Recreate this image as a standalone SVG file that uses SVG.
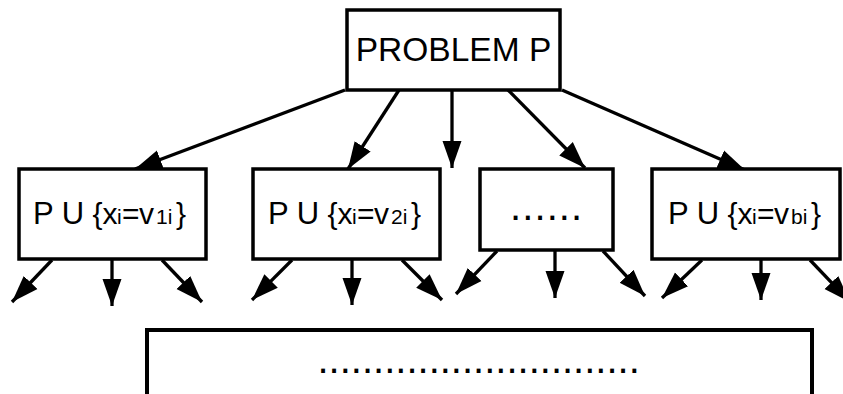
<svg xmlns="http://www.w3.org/2000/svg" width="843" height="394" viewBox="0 0 843 394">
  <defs>
    <marker id="ah" markerUnits="userSpaceOnUse" markerWidth="28" markerHeight="22" refX="27" refY="11" orient="auto">
      <path d="M0,1.5 L27,11 L0,20.5 Z" fill="#000"/>
    </marker>
    <style>
      .box { fill: #fff; stroke: #000; stroke-width: 3.5; }
      .t { font-family: "Liberation Sans", Arial, sans-serif; fill: #000; }
      .big { font-size: 31px; }
      .mid { font-size: 30px; }
      .sub { font-size: 21px; }
      .dots { font-family: "Liberation Sans", Arial, sans-serif; font-size: 40px; fill: #000; }
      .edge { stroke: #000; stroke-width: 3.3; fill: none; marker-end: url(#ah); }
    </style>
  </defs>
  <rect width="843" height="394" fill="#fff"/>

  <g id="connectors">
    <line class="edge" x1="345" y1="90" x2="135" y2="169"/>
    <line class="edge" x1="399" y1="90" x2="348" y2="169"/>
    <line class="edge" x1="452" y1="90" x2="452" y2="168"/>
    <line class="edge" x1="508" y1="90" x2="585" y2="168"/>
    <line class="edge" x1="562" y1="90" x2="745" y2="170"/>

    <line class="edge" x1="52" y1="260" x2="12" y2="302"/>
    <line class="edge" x1="112" y1="260" x2="112" y2="306"/>
    <line class="edge" x1="162" y1="260" x2="202" y2="302"/>

    <line class="edge" x1="292" y1="260" x2="252" y2="300"/>
    <line class="edge" x1="352" y1="260" x2="352" y2="305"/>
    <line class="edge" x1="402" y1="260" x2="442" y2="300"/>

    <line class="edge" x1="497" y1="251" x2="456" y2="294"/>
    <line class="edge" x1="555" y1="251" x2="555" y2="298"/>
    <line class="edge" x1="603" y1="251" x2="645" y2="296"/>

    <line class="edge" x1="702" y1="260" x2="662" y2="298"/>
    <line class="edge" x1="761" y1="260" x2="761" y2="300"/>
    <line class="edge" x1="810" y1="260" x2="850" y2="302"/>
  </g>

  <g id="problem">
    <rect class="box" x="347" y="10" width="213" height="80"/>
    <text class="t" x="453.5" y="61" font-size="33.5" text-anchor="middle">PROBLEM P</text>
  </g>

  <g id="branch1">
    <rect class="box" x="19" y="169" width="187" height="90"/>
    <text class="t" y="224"><tspan class="big" x="33">P U</tspan><tspan class="mid" x="92.5">{</tspan><tspan class="mid" x="102.5">x</tspan><tspan class="sub" x="117">i</tspan><tspan class="mid" x="122">=</tspan><tspan class="mid" x="139">v</tspan><tspan class="sub" x="156">1</tspan><tspan class="sub" x="167.7">i</tspan><tspan class="mid" x="176">}</tspan></text>
  </g>

  <g id="branch2">
    <rect class="box" x="253" y="169" width="187" height="90"/>
    <text class="t" y="224"><tspan class="big" x="268">P U</tspan><tspan class="mid" x="327.5">{</tspan><tspan class="mid" x="337.5">x</tspan><tspan class="sub" x="352">i</tspan><tspan class="mid" x="357">=</tspan><tspan class="mid" x="374">v</tspan><tspan class="sub" x="391">2</tspan><tspan class="sub" x="402.7">i</tspan><tspan class="mid" x="411">}</tspan></text>
  </g>

  <g id="branch3">
    <rect class="box" x="480" y="169" width="133" height="81"/>
    <text class="dots" x="510" y="220" letter-spacing="1.1">......</text>
  </g>

  <g id="branch4">
    <rect class="box" x="652" y="169" width="188" height="90"/>
    <text class="t" y="224"><tspan class="big" x="668">P U</tspan><tspan class="mid" x="727.5">{</tspan><tspan class="mid" x="737.5">x</tspan><tspan class="sub" x="752">i</tspan><tspan class="mid" x="757">=</tspan><tspan class="mid" x="774">v</tspan><tspan class="sub" x="791">b</tspan><tspan class="sub" x="802.7">i</tspan><tspan class="mid" x="811">}</tspan></text>
  </g>

  <g id="level2">
    <rect x="147" y="330" width="665" height="70" fill="#fff" stroke="#000" stroke-width="4"/>
    <text class="dots" x="317.5" y="373">.............................</text>
  </g>
</svg>
